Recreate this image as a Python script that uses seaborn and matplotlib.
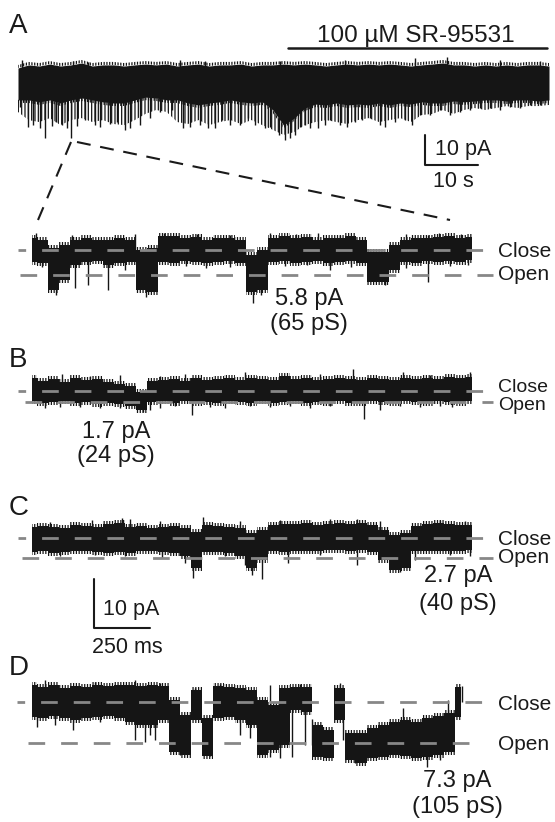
import numpy as np
import matplotlib.pyplot as plt
import seaborn as sns
from matplotlib.lines import Line2D

# ============================================================================
# DATA
# ============================================================================

# A, overview trace: envelope every 2 s (pA, relative to baseline)
overview_t = np.arange(0, 101, 2)
overview_top = [2.5, 3.6, 3.2, 3.9, 3.2, 3.6, 4.3, 3.2, 3.6, 3.6,
                3.2, 3.6, 3.9, 3.6, 3.9, 3.2, 3.6, 3.9, 3.2, 3.6,
                3.6, 3.9, 3.2, 3.6, 3.6, 3.9, 3.6, 3.9, 3.6, 3.2,
                3.6, 3.9, 3.6, 3.9, 3.6, 3.9, 3.6, 3.2, 3.6, 3.9,
                4.3, 3.6, 3.6, 3.2, 3.6, 3.2, 3.6, 3.2, 3.6, 3.6,
                3.2]
overview_bottom = [-8.9, -8.9, -9.6, -8.9, -10.0, -8.9, -8.2, -8.9, -9.6, -10.0,
                   -10.0, -8.9, -7.9, -8.2, -8.9, -8.9, -10.0, -10.7, -10.0, -9.6,
                   -8.9, -9.6, -10.0, -9.6, -12.5, -17.9, -15.4, -11.8, -10.4, -10.7,
                   -10.0, -10.7, -10.4, -10.7, -10.0, -10.7, -10.0, -10.4, -9.6, -10.0,
                   -10.0, -9.3, -9.6, -9.3, -8.9, -8.9, -9.3, -8.9, -8.9, -9.3,
                   -8.9]
# depth that the dense downward openings commonly reach
overview_forest = [-13.2, -16.1, -16.8, -15.4, -17.9, -16.1, -15.4, -16.8, -16.1, -17.5,
                   -17.9, -16.1, -13.9, -12.5, -13.2, -16.8, -17.5, -16.1, -17.9, -16.8,
                   -16.1, -17.5, -16.1, -17.9, -19.6, -21.4, -20.4, -17.9, -16.8, -16.1,
                   -16.8, -17.5, -16.1, -15.4, -16.8, -16.1, -15.4, -16.8, -14.3, -13.9,
                   -12.5, -13.9, -12.5, -11.8, -12.5, -11.8, -11.1, -11.8, -11.1, -11.1,
                   -10.7]
overview_down_t = [0.4, 1.9, 2.8, 4.1, 5.1, 6.4, 7.2, 8.3, 9.2, 10.0, 11.1, 12.6,
                   14.5, 15.4, 17.3, 18.6, 20.2, 21.1, 23.0, 24.9, 26.7, 29.0,
                   31.1, 32.4, 34.3, 35.8, 37.1, 38.4, 39.9, 41.8, 43.3, 44.6,
                   46.5, 47.5, 49.2, 50.3, 51.2, 52.2, 53.1, 54.0, 55.0, 56.5,
                   57.8, 58.8, 60.6, 62.0, 63.5, 64.8, 66.3, 68.2, 69.1, 71.0,
                   72.9, 74.2, 75.7, 77.6, 79.5, 81.4, 83.2, 85.1, 87.0, 88.9,
                   90.8, 92.7, 94.5, 96.4, 98.3]
overview_down_pa = [-11.4, -18.6, -17.9, -18.9, -22.5, -18.2, -16.8, -17.9, -18.9, -22.5, -18.2, -16.1,
                    -17.9, -18.6, -17.5, -16.8, -19.6, -18.9, -17.9, -15.4, -13.2, -12.5,
                    -18.9, -18.6, -17.9, -18.9, -18.9, -16.1, -17.9, -17.9, -15.4, -17.9,
                    -18.9, -18.6, -21.4, -23.2, -22.5, -21.4, -18.6, -17.9, -18.9, -18.9,
                    -17.9, -16.1, -17.9, -18.6, -16.8, -16.1, -15.4, -17.9, -18.6, -16.8,
                    -16.1, -17.9, -14.3, -14.3, -12.5, -14.3, -13.2, -12.5, -11.8, -11.8,
                    -12.5, -11.4, -11.8, -10.7, -10.7]
overview_up_t = [0.8, 10.4, 13.2, 30.5, 35.2, 49.3, 61.6, 74.8, 80.8, 90.8, 98.3]
overview_up_pa = [5.4, 5.0, 4.6, 5.4, 5.0, 5.0, 5.4, 6.1, 6.4, 5.4, 5.0]

# single-channel sweeps, envelope every 50 ms (pA, 0 = closed level)
sweep_t = np.arange(0, 2001, 50)
sweep_t_d = np.arange(0, 1951, 50)

a_top = [2.8, 2.3, 0.5, 1.2, 2.3, 2.8, 2.3, 2.3, 2.8, 2.3,
         0.0, 0.5, 3.2, 3.2, 2.8, 3.0, 2.3, 2.8, 2.8, 2.3,
         -1.2, 0.0, 2.8, 3.2, 2.8, 3.0, 2.3, 2.8, 2.8, 3.2,
         2.3, -0.5, -0.5, 1.2, 2.3, 2.8, 2.8, 3.0, 3.2, 2.8,
         3.0]
a_bottom = [-2.8, -3.0, -9.3, -7.0, -3.5, -2.8, -2.6, -3.5, -3.0, -2.8,
            -9.3, -9.7, -2.8, -3.0, -2.6, -2.8, -3.0, -2.8, -2.6, -3.0,
            -9.7, -9.3, -2.8, -2.6, -3.0, -2.8, -2.6, -3.0, -2.8, -2.6,
            -3.0, -7.4, -7.4, -4.6, -2.8, -3.0, -2.6, -2.8, -2.6, -2.8,
            -2.3]
a_down_t = [45, 110, 195, 255, 345, 423, 520, 700, 791, 900, 1005, 1040,
            1150, 1250, 1355, 1450, 1605, 1700, 1800, 1900, 1980]
a_down_pa = [-4.0, -10.5, -8.8, -8.1, -9.3, -4.6, -10.8, -3.7, -4.2, -3.9, -12.3, -10.5,
             -3.7, -3.5, -4.6, -3.9, -8.1, -4.2, -7.4, -3.7, -3.5]
a_up_t = [18, 180, 470, 600, 750, 900, 1080, 1200, 1300, 1400, 1700, 1800, 1850, 1950]
a_up_pa = [3.9, 3.5, 3.7, 3.9, 3.7, 3.5, 3.9, 3.7, 3.9, 3.5, 3.7, 3.5, 4.0, 3.7]

b_top = [2.0, 1.5, 1.8, 1.4, 2.0, 1.7, 1.8, 1.4, 1.1, 0.8,
         -0.2, 1.5, 1.7, 1.8, 1.5, 2.0, 1.7, 1.8, 2.0, 1.7,
         2.0, 1.8, 1.7, 2.3, 1.8, 2.0, 1.7, 1.8, 2.0, 1.8,
         1.7, 2.0, 1.8, 1.7, 2.0, 1.8, 2.0, 1.8, 2.2, 2.0,
         2.2]
b_bottom = [-1.6, -1.8, -1.7, -1.6, -1.8, -1.7, -2.0, -1.8, -2.0, -2.3,
            -2.9, -1.7, -1.6, -1.8, -1.6, -1.8, -1.7, -1.8, -1.6, -1.7,
            -1.8, -1.6, -1.8, -1.7, -1.6, -1.8, -1.7, -1.8, -1.6, -1.8,
            -1.8, -1.6, -1.7, -1.8, -1.6, -1.7, -1.8, -1.6, -1.7, -1.8,
            -1.6]
b_down_t = [59, 127, 218, 309, 400, 505, 536, 582, 650, 727, 809, 877,
            991, 1082, 1173, 1264, 1355, 1509, 1582, 1673, 1764, 1855, 1909]
b_down_pa = [-2.6, -2.5, -2.5, -2.6, -2.6, -3.2, -3.0, -2.6, -2.3, -3.7, -2.5, -2.6,
             -2.3, -2.5, -2.3, -2.6, -2.3, -4.3, -2.9, -2.3, -2.5, -2.3, -2.5]
b_up_t = [136, 264, 400, 582, 695, 968, 1127, 1309, 1459, 1686, 1809, 1991]
b_up_pa = [2.6, 2.3, 2.5, 2.3, 2.6, 2.9, 2.3, 2.6, 3.4, 2.9, 2.5, 2.9]

c_top = [1.5, 1.6, 1.5, 1.4, 1.8, 1.6, 1.5, 1.9, 2.0, 1.5,
         1.6, 1.4, 1.5, 1.6, 1.4, 0.8, 1.8, 1.6, 1.5, 1.4,
         0.7, 1.1, 1.8, 1.9, 1.9, 2.0, 1.8, 1.9, 2.0, 1.9,
         2.0, 1.8, 1.1, 0.4, 0.7, 1.6, 1.9, 2.0, 1.9, 1.8,
         1.8]
c_bottom = [-1.9, -1.8, -2.0, -1.9, -1.8, -1.8, -1.9, -2.0, -1.9, -2.0,
            -1.8, -1.8, -1.9, -2.0, -2.4, -4.1, -1.9, -1.9, -2.0, -2.4,
            -4.1, -3.0, -1.8, -1.9, -1.8, -1.8, -1.8, -1.6, -1.6, -1.8,
            -1.6, -1.9, -3.0, -4.3, -4.1, -1.8, -1.8, -1.8, -1.8, -1.8,
            -1.6]
c_down_t = [127, 286, 423, 591, 695, 732, 877, 968, 1000, 1045, 1164, 1309,
            1477, 1673, 1741, 1900, 1991]
c_down_pa = [-2.4, -2.3, -2.4, -2.7, -3.4, -5.4, -2.4, -3.6, -5.0, -5.5, -3.4, -2.3,
             -3.6, -4.6, -3.0, -2.3, -2.4]
c_up_t = [82, 273, 409, 445, 582, 777, 945, 1127, 1355, 1477, 1582, 1855, 1968]
c_up_pa = [2.2, 2.4, 2.7, 2.6, 2.3, 2.8, 2.3, 2.4, 2.6, 2.6, 2.3, 2.4, 2.3]

d_top = [3.0, 2.7, 3.0, 2.5, 2.9, 2.7, 3.0, 2.9, 3.0, 3.0,
         2.9, 3.0, 2.9, 0.4, -2.3, 2.1, -2.9, 2.9, 2.7, 2.5,
         2.1, 0.4, -0.5, 2.5, 2.7, 2.7, -4.1, -5.0, 2.5, -5.5,
         -5.5, -4.6, -4.1, -3.6, -3.2, -3.6, -2.9, -2.5, -2.0, 2.7]
d_bottom = [-2.7, -2.9, -2.5, -2.9, -3.2, -2.9, -2.7, -2.5, -2.9, -3.6,
            -4.1, -4.1, -3.2, -8.9, -9.5, -3.2, -9.6, -2.9, -2.7, -3.2,
            -4.1, -9.5, -8.6, -7.7, -1.4, -1.8, -9.8, -10.0, -3.2, -10.4,
            -10.9, -10.0, -9.8, -9.5, -9.6, -10.0, -9.8, -9.5, -8.9, -2.7]
d_down_t = [23, 105, 186, 309, 468, 514, 536, 559, 673, 809, 945, 991,
            1045, 1082, 1127, 1182, 1241, 1273, 1414, 1468, 1795, 1855]
d_down_pa = [-4.5, -4.1, -5.0, -3.6, -6.8, -7.1, -5.9, -6.8, -9.5, -9.6, -5.9, -6.4,
             -8.9, -9.8, -10.0, -9.8, -7.7, -7.7, -6.8, -10.9, -11.6, -10.4]
d_up_t = [59, 286, 468, 582, 741, 855, 1082, 1218, 1400, 1686, 1891, 1955]
d_up_pa = [3.9, 3.6, 3.9, 3.4, 2.5, 3.2, 3.0, 3.2, 3.4, -1.1, 0.4, 2.9]

panel_names = ['A', 'B', 'C', 'D']
amplitude_pa = [5.8, 1.7, 2.7, 7.3]
conductance_ps = [65, 24, 40, 105]

# ============================================================================
# STYLE / LAYOUT
# ============================================================================

sns.set_style('white')
plt.rcParams['font.family'] = ['Liberation Sans', 'DejaVu Sans']
plt.rcParams['lines.scale_dashes'] = False
plt.rcParams['hatch.linewidth'] = 0.9

W, H = 555, 822
TRACE = '#151515'
LEVEL = '#878787'
INK = '#1a1a1a'
MS_PER_PX = 1 / 0.22          # sweep time scale
SWEEP_X0 = 32                 # pixel where t = 0 ms
FRINGE_PX = 3                 # height of the noise fringe drawn on the band

fig = plt.figure(figsize=(W / 100, H / 100), dpi=100)


def box(x0, y0, x1, y1):
    return [x0 / W, 1 - y1 / H, (x1 - x0) / W, (y1 - y0) / H]


def fxy(x, y):
    return x / W, 1 - y / H


def ftext(x, y, s, **kw):
    kw.setdefault('color', INK)
    fig.text(*fxy(x, y), s, **kw)


def fline(xs, ys, **kw):
    fx = [x / W for x in xs]
    fy = [1 - y / H for y in ys]
    fig.add_artist(Line2D(fx, fy, **kw))


def draw_trace(ax, t, top, bottom, down_t, down_pa, up_t, up_pa,
               fringe, step='mid'):
    top = np.asarray(top)
    bottom = np.asarray(bottom)
    ax.fill_between(t, bottom, top, step=step, color=TRACE, lw=0)
    # rough noisy edges
    for lo, hi in ((top, top + fringe), (bottom - fringe, bottom)):
        ax.fill_between(t, lo, hi, step=step, facecolor='none',
                        edgecolor=TRACE, hatch='||||||', lw=0)
    mid = (top + bottom) / 2
    for st, sp in ((down_t, down_pa), (up_t, up_pa)):
        base = np.interp(st, t, mid)
        ax.vlines(st, base, sp, color=TRACE, lw=1.0)


# ============================================================================
# A: OVERVIEW TRACE
# ============================================================================

k0 = 2.8                                # px per pA in the overview
ax0 = fig.add_axes(box(18, 50, 549, 190))
draw_trace(ax0, overview_t, overview_top, overview_bottom,
           overview_down_t, overview_down_pa, overview_up_t, overview_up_pa,
           fringe=FRINGE_PX / k0, step=None)
ax0.fill_between(overview_t, overview_forest, overview_bottom, facecolor='none',
                 edgecolor=TRACE, hatch='|||||', lw=0)
ax0.set_xlim(0, 100)
ax0.set_ylim((75 - 190) / k0, (75 - 50) / k0)
ax0.set_axis_off()

# drug bar + label
fline([288, 547], [48, 48], color=INK, lw=1.8)
ftext(416, 42, '100 µM SR-95531', ha='center', va='baseline', size=17.5)

# scale bar 10 pA / 10 s
fline([425, 425, 478], [135, 165, 165], color=INK, lw=1.5)
ftext(435, 155, '10 pA', ha='left', va='baseline', size=15.5)
ftext(453, 187, '10 s', ha='center', va='baseline', size=15.5)

# zoom connector
fline([71, 38], [142, 220], color=INK, lw=1.5, dashes=(10, 7))
fline([77, 450], [142, 220], color=INK, lw=1.5, dashes=(10, 7))

# ============================================================================
# SINGLE-CHANNEL SWEEPS
# ============================================================================

sweeps = [
    (sweep_t, a_top, a_bottom, a_down_t, a_down_pa, a_up_t, a_up_pa),
    (sweep_t, b_top, b_bottom, b_down_t, b_down_pa, b_up_t, b_up_pa),
    (sweep_t, c_top, c_bottom, c_down_t, c_down_pa, c_up_t, c_up_pa),
    (sweep_t_d, d_top, d_bottom, d_down_t, d_down_pa, d_up_t, d_up_pa),
]
# axes box top/bottom, closed/open level pixel rows
rows = [(222, 340, 250, 275), (368, 470, 391, 402),
        (505, 625, 538, 558), (672, 822, 702, 743)]
# dashed level line extents (px): close start, open start, close end, open end
level_px = [(18, 20, 493, 493), (18, 25, 493, 493),
            (18, 22, 493, 493), (17, 28, 490, 477)]
# Close / Open label baselines and size
label_base = [(257, 280, 15), (392, 410, 14), (545, 563, 15), (710, 750, 15)]
# amplitude label centre x and two baselines
amp_pos = [(309, 305, 330), (116, 438, 462), (458, 582, 610), (457, 787, 813)]
letter_base = [33, 367, 515, 675]


def px_to_ms(x):
    return (x - SWEEP_X0) * MS_PER_PX


for i, (t, top, bot, dt, dp, ut, up) in enumerate(sweeps):
    y0, y1, yc, yo = rows[i]
    k = (yo - yc) / amplitude_pa[i]        # px per pA
    ax = fig.add_axes(box(15, y0, 500, y1))
    draw_trace(ax, t, top, bot, dt, dp, ut, up, fringe=FRINGE_PX / k)

    cs, os_, ce, oe = level_px[i]
    ax.plot([px_to_ms(cs), px_to_ms(ce)], [0, 0], color=LEVEL, lw=2.0,
            ls=(6.5, (12, 11.5)), zorder=3)
    ax.plot([px_to_ms(os_), px_to_ms(oe)], [-amplitude_pa[i]] * 2, color=LEVEL,
            lw=2.0, ls=(0, (12, 11.5)), zorder=3)

    ax.set_xlim(px_to_ms(15), px_to_ms(500))
    ax.set_ylim((yc - y1) / k, (yc - y0) / k)
    ax.set_axis_off()

    cb, ob, fs = label_base[i]
    ftext(498, cb, 'Close', ha='left', va='baseline', size=fs)
    ftext(498, ob, 'Open', ha='left', va='baseline', size=fs)

    ax_x, b1, b2 = amp_pos[i]
    ftext(ax_x, b1, f'{amplitude_pa[i]} pA', ha='center', va='baseline', size=17)
    ftext(ax_x, b2, f'({conductance_ps[i]} pS)', ha='center', va='baseline', size=17)

for name, base in zip(panel_names, letter_base):
    ftext(9, base, name, ha='left', va='baseline', size=20)

# scale bar 10 pA / 250 ms
fline([94, 94, 150], [579, 628, 628], color=INK, lw=1.5)
ftext(103, 615, '10 pA', ha='left', va='baseline', size=15.5)
ftext(127, 653, '250 ms', ha='center', va='baseline', size=15.5)

plt.savefig('out.png', dpi=100)
